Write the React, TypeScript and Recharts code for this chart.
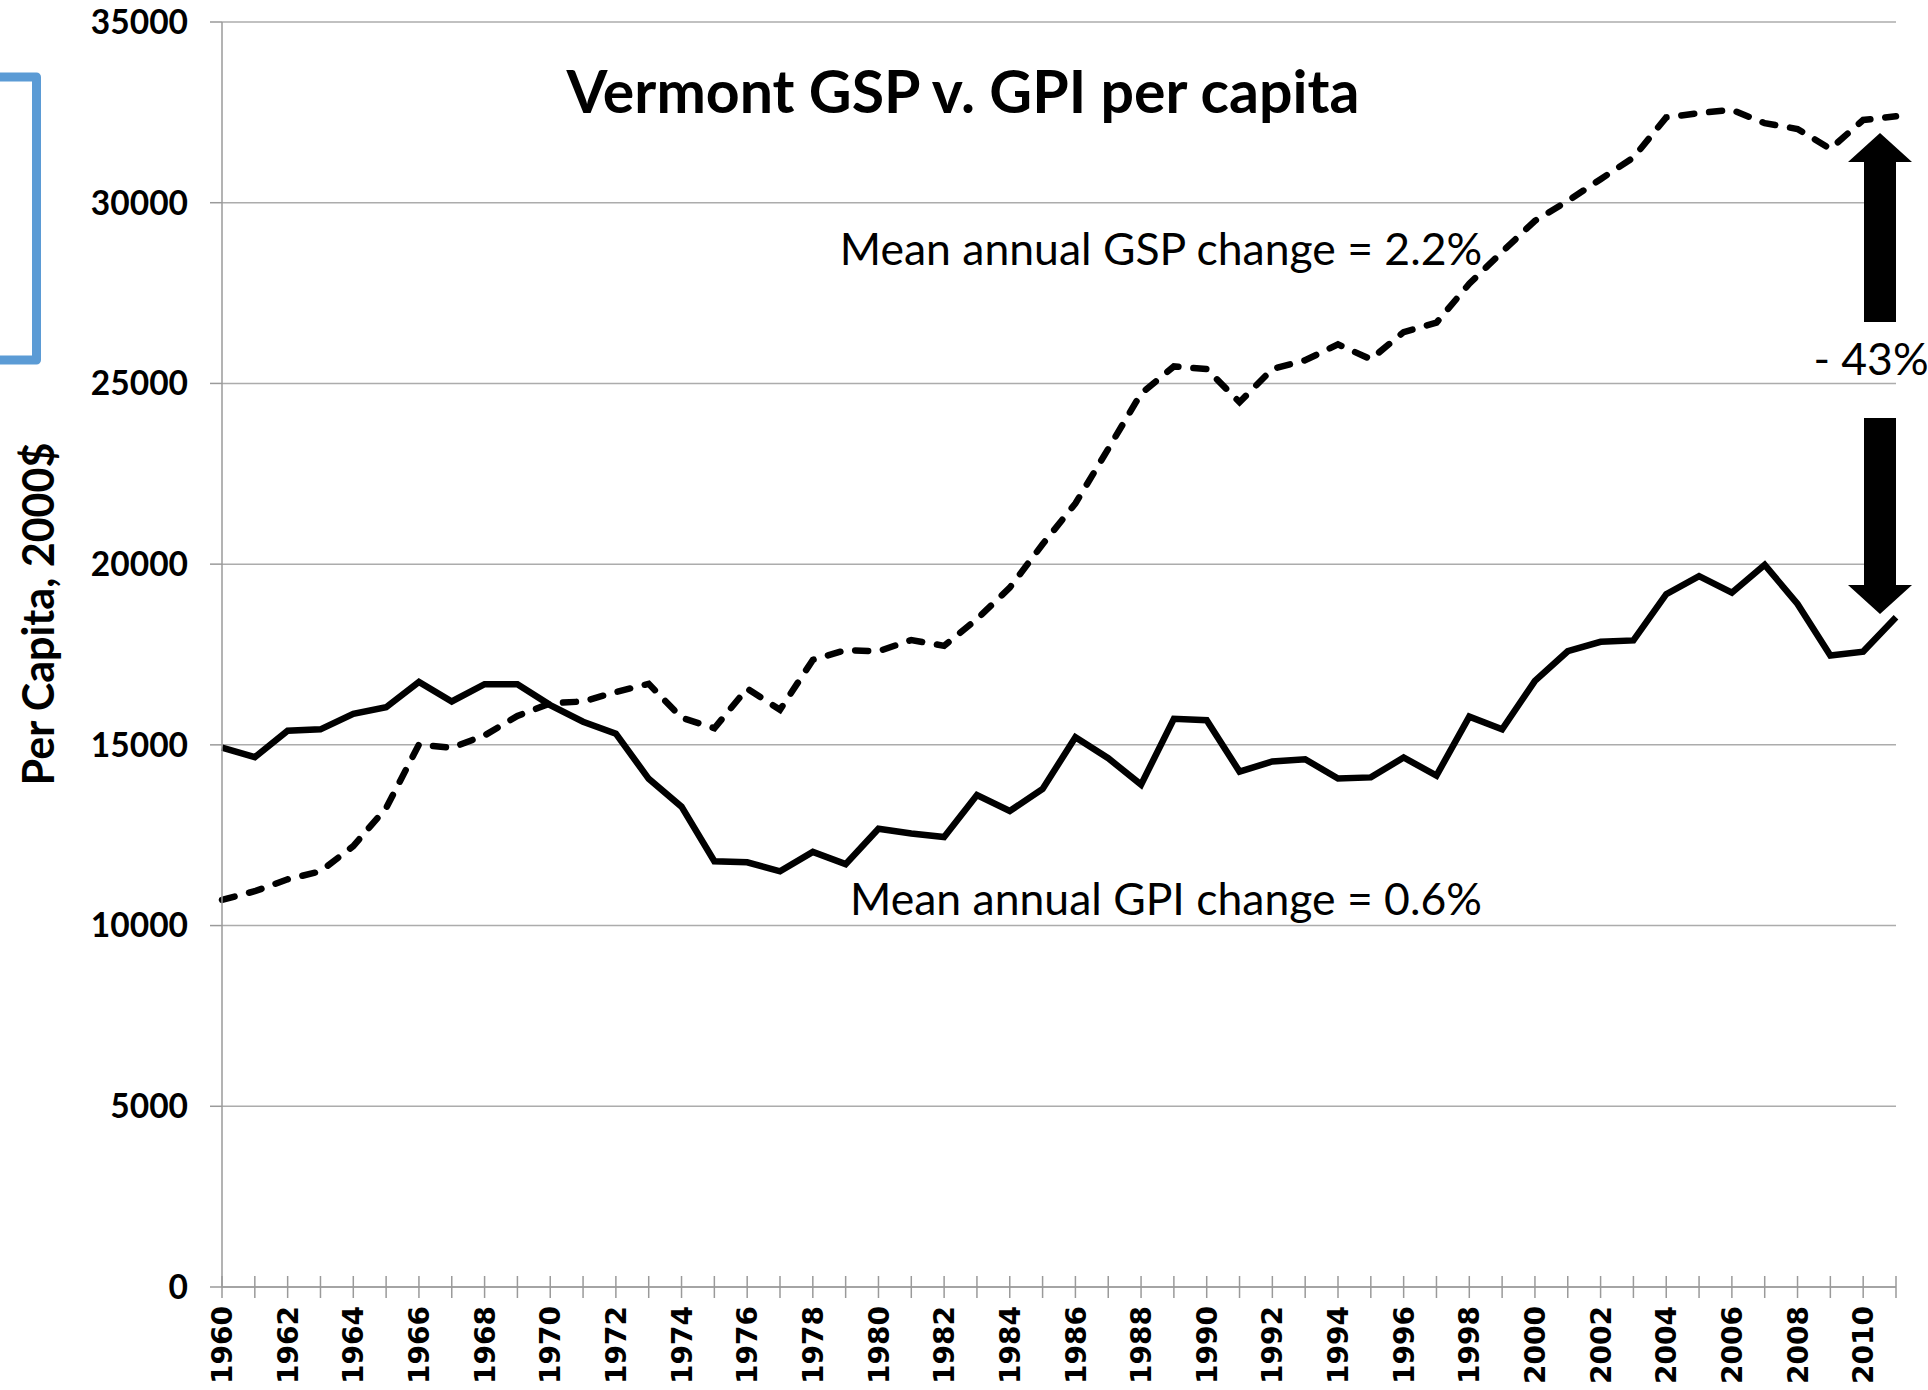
import React from 'react'
import { LineChart, Line, XAxis, YAxis, CartesianGrid } from 'recharts'

const years = [
  1960, 1961, 1962, 1963, 1964, 1965, 1966, 1967, 1968, 1969,
  1970, 1971, 1972, 1973, 1974, 1975, 1976, 1977, 1978, 1979,
  1980, 1981, 1982, 1983, 1984, 1985, 1986, 1987, 1988, 1989,
  1990, 1991, 1992, 1993, 1994, 1995, 1996, 1997, 1998, 1999,
  2000, 2001, 2002, 2003, 2004, 2005, 2006, 2007, 2008, 2009,
  2010, 2011,
]

// Gross State Product per capita (dashed)
const gspPerCapita = [
  10710, 10950, 11280, 11500, 12200, 13250, 15010, 14920, 15260, 15800,
  16150, 16200, 16460, 16690, 15750, 15460, 16560, 15970, 17350, 17620,
  17590, 17900, 17740, 18480, 19350, 20550, 21680, 23190, 24720, 25470,
  25400, 24480, 25400, 25640, 26080, 25670, 26420, 26680, 27760, 28640,
  29500, 30050, 30650, 31250, 32360, 32480, 32570, 32200, 32040, 31490,
  32290, 32390,
]

// Genuine Progress Indicator per capita (solid)
const gpiPerCapita = [
  14920, 14660, 15390, 15430, 15860, 16040, 16740, 16200, 16680, 16680,
  16100, 15640, 15310, 14060, 13290, 11780, 11750, 11500, 12040, 11700,
  12680, 12550, 12450, 13610, 13170, 13780, 15210, 14630, 13900, 15720,
  15680, 14260, 14540, 14600, 14070, 14100, 14650, 14150, 15780, 15430,
  16770, 17590, 17850, 17890, 19170, 19670, 19210, 19980, 18900, 17470,
  17580, 18530,
]

const yTicks = [0, 5000, 10000, 15000, 20000, 25000, 30000, 35000]

const data = years.map((year, i) => ({
  year,
  gsp: gspPerCapita[i],
  gpi: gpiPerCapita[i],
}))

const GRID = '#acacac'
const AXIS = '#9a9a9a'

function YearTick({ x, y, payload }: any) {
  const year = payload.value
  return (
    <g>
      <line x1={x} x2={x} y1={y - 11} y2={y + 11} stroke={AXIS} strokeWidth={1.5} />
      {year % 2 === 0 && (
        <text
          transform={`translate(${x},${y + 19}) rotate(-90)`}
          textAnchor="end"
          dy="0.36em"
          fontFamily="'DejaVu Sans'"
          fontWeight={700}
          fontSize={28}
          fill="#000"
        >
          {year}
        </text>
      )}
    </g>
  )
}

export default function App() {
  return (
    <div style={{ position: 'absolute', left: 0, top: 0, width: 1928, height: 1390, background: '#fff' }}>
      <LineChart width={1928} height={1390} data={data} margin={{ top: 22, right: 32, left: 0, bottom: 0 }}>
        <CartesianGrid vertical={false} stroke={GRID} strokeWidth={1.5} />
        <XAxis
          dataKey="year"
          interval={0}
          height={103}
          tickLine={false}
          tickSize={0}
          tickMargin={0}
          stroke={AXIS}
          strokeWidth={1.5}
          tick={<YearTick />}
        />
        <YAxis
          domain={[0, 35000]}
          ticks={yTicks}
          width={222}
          tickSize={12}
          tickMargin={22}
          stroke={AXIS}
          strokeWidth={1.5}
          tick={{ fill: '#000', fontSize: 33.5, fontFamily: 'Lato', fontWeight: 700 }}
        />
        <Line
          type="linear"
          dataKey="gpi"
          stroke="#000"
          strokeWidth={6.5}
          dot={false}
          isAnimationActive={false}
        />
        <Line
          type="linear"
          dataKey="gsp"
          stroke="#000"
          strokeWidth={6.5}
          strokeDasharray="13 15"
          strokeLinecap="round"
          dot={false}
          isAnimationActive={false}
        />
      </LineChart>

      <svg
        width={1928}
        height={1390}
        style={{ position: 'absolute', left: 0, top: 0, pointerEvents: 'none' }}
      >
        <path
          d="M0,77 L36.5,77 L36.5,360 L0,360"
          fill="none"
          stroke="#5B9BD5"
          strokeWidth={9}
          strokeLinejoin="round"
        />
        <text x={963} y={113} textAnchor="middle" fontFamily="Lato" fontWeight={700} fontSize={59} fill="#000">
          Vermont GSP v. GPI per capita
        </text>
        <text x={1161} y={265} textAnchor="middle" fontFamily="Lato" fontSize={44.5} fill="#000">
          Mean annual GSP change = 2.2%
        </text>
        <text x={1166} y={915} textAnchor="middle" fontFamily="Lato" fontSize={44.5} fill="#000">
          Mean annual GPI change = 0.6%
        </text>
        <text x={1871} y={375} textAnchor="middle" fontFamily="Lato" fontSize={44.5} fill="#000">
          - 43%
        </text>
        <text
          transform="translate(54,614) rotate(-90)"
          textAnchor="middle"
          fontFamily="Lato"
          fontWeight={700}
          fontSize={43}
          fill="#000"
        >
          Per Capita, 2000$
        </text>
        <polygon points="1880,133 1912,162 1896,162 1896,322 1864,322 1864,162 1848,162" fill="#000" />
        <polygon points="1864,418 1896,418 1896,585 1912,585 1880,614 1848,585 1864,585" fill="#000" />
      </svg>
    </div>
  )
}
